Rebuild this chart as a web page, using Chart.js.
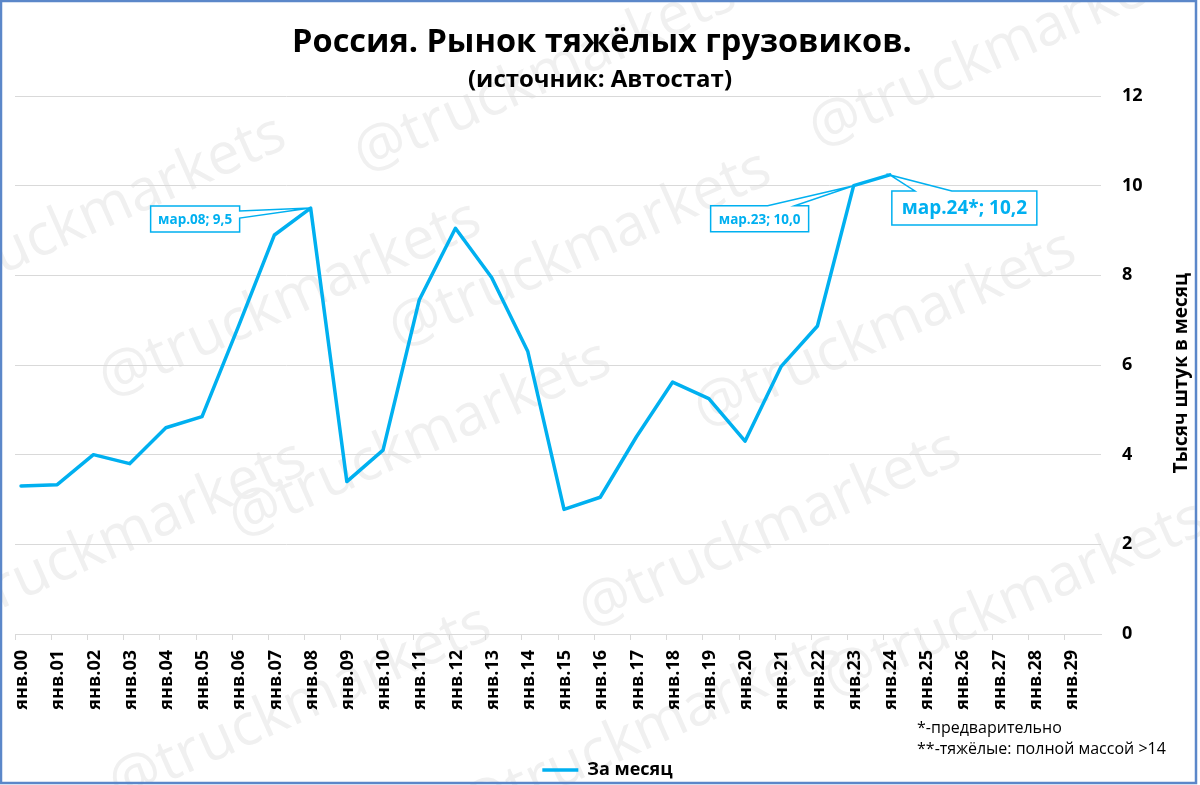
<!DOCTYPE html>
<html>
<head>
<meta charset="utf-8">
<title>Россия. Рынок тяжёлых грузовиков.</title>
<script src="https://cdn.jsdelivr.net/npm/chart.js"></script>
<style>
  html, body { margin: 0; padding: 0; background: #fff; }
  canvas { display: block; }
</style>
</head>
<body>
<canvas id="myChart" width="1200" height="785"></canvas>
<script>
// x axis tick labels (January of each year)
const tickLabels = [
  'янв.00', 'янв.01', 'янв.02', 'янв.03', 'янв.04', 'янв.05', 'янв.06', 'янв.07', 'янв.08', 'янв.09',
  'янв.10', 'янв.11', 'янв.12', 'янв.13', 'янв.14', 'янв.15', 'янв.16', 'янв.17', 'янв.18', 'янв.19',
  'янв.20', 'янв.21', 'янв.22', 'янв.23', 'янв.24', 'янв.25', 'янв.26', 'янв.27', 'янв.28', 'янв.29'
];
// one value per year, taken in March, thousand trucks per month
const years = [2000, 2001, 2002, 2003, 2004, 2005, 2006, 2007, 2008, 2009, 2010, 2011, 2012,
  2013, 2014, 2015, 2016, 2017, 2018, 2019, 2020, 2021, 2022, 2023, 2024];
const dataMonth = 3;
const values = [3.3, 3.33, 4.0, 3.8, 4.6, 4.85, 6.85, 8.9, 9.5, 3.4, 4.1, 7.45, 9.05,
  7.95, 6.3, 2.78, 3.05, 4.4, 5.62, 5.25, 4.3, 5.97, 6.87, 10.0, 10.24];
const seriesName = 'За месяц';
const yTicks = [0, 2, 4, 6, 8, 10, 12];

const calloutIndex = [8, 23, 24];
const calloutTexts = ['мар.08; 9,5', 'мар.23; 10,0', 'мар.24*; 10,2'];
const titleText = 'Россия. Рынок тяжёлых грузовиков.';
const subtitleText = '(источник: Автостат)';
const yTitle = 'Тысяч штук в месяц';
const footnotes = ['*-предварительно', '**-тяжёлые: полной массой >14'];
const watermark = '@truckmarkets';

const FONT = '"Open Sans", "Noto Sans", sans-serif';
const BLUE = '#00B0F0';

// box placement of each callout, relative to its point
const calloutStyle = [
  { dx: -160, dy: -2, w: 89, h: 26, size: 13.5, wedge: { side: 'right', a: 5, b: 12 } },
  { dx: -143, dy: 20, w: 98, h: 26, size: 13.5, wedge: { side: 'top', a: 57, b: 84 } },
  { dx: 2, dy: 16, w: 145, h: 34, size: 19, wedge: { side: 'top', a: 23, b: 60 } }
];
const watermarkSpots = [
  [95, 215], [545, 75], [1000, 50], [290, 300], [580, 250], [885, 330],
  [115, 540], [420, 440], [770, 530], [1015, 600], [300, 705], [650, 730]
];

const points = years.map((yr, i) => ({ x: (yr - 2000) + (dataMonth - 1) / 12, y: values[i] }));

const decor = {
  id: 'decor',
  beforeDraw(chart) {
    const ctx = chart.ctx;
    ctx.save();
    ctx.fillStyle = '#fff';
    ctx.fillRect(0, 0, chart.width, chart.height);
    ctx.fillStyle = '#F0F0F0';
    ctx.font = '58px ' + FONT;
    ctx.textAlign = 'center';
    ctx.textBaseline = 'middle';
    watermarkSpots.forEach(([x, y]) => {
      ctx.save();
      ctx.translate(x, y);
      ctx.rotate(-24 * Math.PI / 180);
      ctx.fillText(watermark, 0, 0);
      ctx.restore();
    });
    ctx.restore();
  },
  afterDatasetsDraw(chart) {
    const ctx = chart.ctx;
    const meta = chart.getDatasetMeta(0);
    ctx.save();
    calloutIndex.forEach((idx, k) => {
      const pt = meta.data[idx];
      const st = calloutStyle[k];
      const bx = pt.x + st.dx, by = pt.y + st.dy;
      ctx.fillStyle = '#fff';
      ctx.fillRect(bx, by, st.w, st.h);
      ctx.beginPath();
      ctx.moveTo(bx, by);
      if (st.wedge.side === 'top') {
        ctx.lineTo(bx + st.wedge.a, by);
        ctx.lineTo(pt.x, pt.y);
        ctx.lineTo(bx + st.wedge.b, by);
      }
      ctx.lineTo(bx + st.w, by);
      if (st.wedge.side === 'right') {
        ctx.lineTo(bx + st.w, by + st.wedge.a);
        ctx.lineTo(pt.x, pt.y);
        ctx.lineTo(bx + st.w, by + st.wedge.b);
      }
      ctx.lineTo(bx + st.w, by + st.h);
      ctx.lineTo(bx, by + st.h);
      ctx.closePath();
      ctx.strokeStyle = BLUE;
      ctx.lineWidth = 1.5;
      ctx.lineJoin = 'miter';
      ctx.stroke();
      ctx.fillStyle = BLUE;
      ctx.font = 'bold ' + st.size + 'px ' + FONT;
      ctx.textAlign = 'center';
      ctx.textBaseline = 'middle';
      ctx.fillText(calloutTexts[k], bx + st.w / 2, by + st.h / 2 + 1);
    });
    ctx.restore();
  },
  afterDraw(chart) {
    const ctx = chart.ctx;
    const area = chart.chartArea;
    ctx.save();
    ctx.fillStyle = '#000';
    ctx.textAlign = 'center';
    ctx.textBaseline = 'middle';
    ctx.font = 'bold 32.5px ' + FONT;
    ctx.fillText(titleText, 602, 43);
    ctx.font = 'bold 24px ' + FONT;
    ctx.fillText(subtitleText, 600, 80);

    ctx.save();
    ctx.translate(area.right + 81, (area.top + area.bottom) / 2 + 8);
    ctx.rotate(-Math.PI / 2);
    ctx.font = 'bold 19px ' + FONT;
    ctx.fillText(yTitle, 0, 0);
    ctx.restore();

    ctx.textAlign = 'left';
    ctx.font = '16px ' + FONT;
    ctx.fillText(footnotes[0], 917, 728);
    ctx.fillText(footnotes[1], 917, 749);

    ctx.strokeStyle = '#5B87C9';
    ctx.lineWidth = 2.5;
    ctx.strokeRect(1, 1, 1195, 782);
    ctx.restore();
  }
};

new Chart(document.getElementById('myChart'), {
  type: 'line',
  data: {
    datasets: [{
      label: seriesName,
      data: points,
      borderColor: BLUE,
      backgroundColor: BLUE,
      borderWidth: 3.5,
      borderJoinStyle: 'round',
      borderCapStyle: 'round',
      pointRadius: 0,
      pointHoverRadius: 0,
      tension: 0,
      fill: false
    }]
  },
  options: {
    responsive: false,
    animation: false,
    layout: { padding: { top: 96, left: 15, right: 0, bottom: -4 } },
    scales: {
      x: {
        type: 'linear',
        min: 0,
        max: 30,
        afterBuildTicks: s => { s.ticks = tickLabels.map((_, i) => ({ value: i })); },
        afterFit: s => { s.height = 125; },
        ticks: {
          autoSkip: false,
          minRotation: 90,
          maxRotation: 90,
          labelOffset: 7,
          padding: 10,
          color: '#000',
          font: { family: FONT, weight: 'bold', size: 18 },
          callback: v => tickLabels[v]
        },
        grid: { drawOnChartArea: false, color: '#D9D9D9', tickLength: 6 },
        border: { color: '#D9D9D9', width: 1 }
      },
      y: {
        position: 'right',
        min: 0,
        max: 12,
        afterBuildTicks: s => { s.ticks = yTicks.map(v => ({ value: v })); },
        afterFit: s => { s.width = 99; },
        ticks: {
          padding: 21,
          color: '#000',
          font: { family: FONT, weight: 'bold', size: 18 }
        },
        grid: { color: '#D9D9D9', drawTicks: false },
        border: { display: false }
      }
    },
    plugins: {
      legend: {
        position: 'bottom',
        labels: {
          usePointStyle: true,
          pointStyle: 'line',
          pointStyleWidth: 36,
          padding: 2,
          color: '#000',
          font: { family: FONT, weight: 'bold', size: 18 }
        }
      },
      tooltip: { enabled: false }
    }
  },
  plugins: [decor]
});
</script>
</body>
</html>
